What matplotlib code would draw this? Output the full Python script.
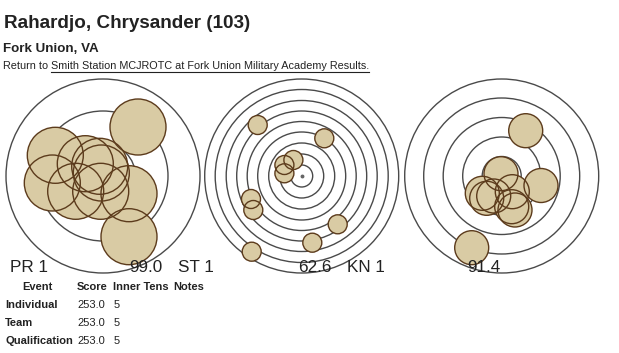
import matplotlib
matplotlib.use('Agg')
import matplotlib.pyplot as plt
from matplotlib.patches import Circle

# shot positions (pixels from target centre, y up)
pr_x = [35, 26, 26, -47.7, -50.7, -17.7, -3.3, -1.7, -27.3, -2.3]
pr_y = [49, -60.7, -17.7, 20.7, -7, 12.3, 9.7, 3, -15.3, -15.3]
st_x = [-44, 22.6, -8.3, -17.3, -17.3, -50.7, -48.4, 36, 10.6, -50]
st_y = [51, 37.7, 16, 11, 2.7, -23, -34, -48.3, -66.7, -75.7]
kn_x = [24, 39.3, -30, -0.7, 10.6, -19.4, -15, 10, 13.3, -8]
kn_y = [45.3, -9.5, -71.7, 2.3, -15.7, -17.3, -22.3, -30.7, -34, -20]

pr_rings = [97, 65, 32.5]
st_rings = [97, 86.5, 75.5, 65, 54.5, 44, 33, 22, 11]
kn_rings = [97, 78, 58.5, 39, 19.5]

events = ['PR 1', 'ST 1', 'KN 1']
scores = ['99.0', '62.6', '91.4']

columns = ['Event', 'Score', 'Inner Tens', 'Notes']
rows = ['Individual', 'Team', 'Qualification']
row_score = ['253.0', '253.0', '253.0']
row_tens = ['5', '5', '5']

W, H = 619, 353
fig = plt.figure(figsize=(W / 100, H / 100), dpi=100)

FILL = '#d9cba4'
EDGE = '#5c3b1c'
RING = '#4a4a4a'
TXT = '#222222'


def target(cx, cy, rings, xs, ys, r_shot, dot=False):
    ax = fig.add_axes([(cx - 100) / W, 1 - (cy + 100) / H, 200 / W, 200 / H])
    ax.set_xlim(-100, 100)
    ax.set_ylim(-100, 100)
    ax.axis('off')
    for r in rings:
        ax.add_patch(Circle((0, 0), r, fill=False, ec=RING, lw=1.0, zorder=1))
    if dot:
        ax.plot(0, 0, 'o', ms=1.8, color='#666666', zorder=1)
    for x, y in zip(xs, ys):
        ax.add_patch(Circle((x, y), r_shot, fc=FILL, ec='none', zorder=2))
    for x, y in zip(xs, ys):
        ax.add_patch(Circle((x, y), r_shot, fill=False, ec=EDGE, lw=1.0, zorder=3))


target(103, 176, pr_rings, pr_x, pr_y, 28)
target(301.7, 176, st_rings, st_x, st_y, 9.5, dot=True)
target(501.7, 176, kn_rings, kn_x, kn_y, 17)

# overlay for text in pixel coordinates
ov = fig.add_axes([0, 0, 1, 1], zorder=5)
ov.set_xlim(0, W)
ov.set_ylim(H, 0)
ov.axis('off')
ov.patch.set_alpha(0)

FONT = ['Liberation Sans', 'DejaVu Sans']


def fit(t, width):
    # scale the font so the text spans roughly the width seen in the picture
    fig.canvas.draw()
    w = t.get_window_extent().width
    t.set_fontsize(t.get_fontsize() * width / w)


title = ov.text(4, 28.5, 'Rahardjo, Chrysander (103)', fontsize=14, fontweight='bold',
                family=FONT, color=TXT, va='baseline')
fit(title, 248)
sub = ov.text(3, 51.5, 'Fork Union, VA', fontsize=10.5, fontweight='bold',
              family=FONT, color=TXT, va='baseline')
fit(sub, 96)
full = ov.text(3, 69, 'Return to Smith Station MCJROTC at Fork Union Military Academy Results.',
               fontsize=8.5, family=FONT, color=TXT, va='baseline')
fit(full, 362)
fs_ret = full.get_fontsize()
full.remove()
t1 = ov.text(3, 69, 'Return to\u00a0', fontsize=fs_ret, family=FONT, color=TXT, va='baseline')
fig.canvas.draw()
x_link = ov.transData.inverted().transform((t1.get_window_extent().x1, 0))[0]
t2 = ov.text(x_link, 69, 'Smith Station MCJROTC at Fork Union Military Academy Results.',
             fontsize=fs_ret, family=FONT, color=TXT, va='baseline')
fig.canvas.draw()
bb2 = t2.get_window_extent()
ux = ov.transData.inverted().transform([(bb2.x0, 0), (bb2.x1, 0)])[:, 0]
ov.plot(ux, [71.5, 71.5], color=TXT, lw=0.8)

# target labels
label_x = [10, 178, 347]
score_x = [163, 332, 500]
for i in range(3):
    ov.text(label_x[i], 272.5, events[i], fontsize=12.3, family=FONT, color=TXT, va='baseline')
    ov.text(score_x[i], 272.5, scores[i], fontsize=12.3, family=FONT, color=TXT,
            va='baseline', ha='right')

# results table
probe = ov.text(5, 344, rows[2], fontsize=9, fontweight='bold', family=FONT,
                color=TXT, va='baseline')
fit(probe, 68)
fs_tab = probe.get_fontsize()
probe.remove()

col_x = [37, 77, 113, 173]
ov.text(col_x[0], 290.5, columns[0], fontsize=fs_tab, fontweight='bold', family=FONT,
        color=TXT, va='baseline', ha='center')
for j in range(1, 4):
    ov.text(col_x[j], 290.5, columns[j], fontsize=fs_tab, fontweight='bold', family=FONT,
            color=TXT, va='baseline')
row_y = [308, 326, 344]
for i in range(3):
    ov.text(5, row_y[i], rows[i], fontsize=fs_tab, fontweight='bold', family=FONT,
            color=TXT, va='baseline')
    ov.text(77, row_y[i], row_score[i], fontsize=fs_tab, family=FONT, color=TXT, va='baseline')
    ov.text(114, row_y[i], row_tens[i], fontsize=fs_tab, family=FONT, color=TXT, va='baseline')

fig.savefig('out.png', dpi=100)
